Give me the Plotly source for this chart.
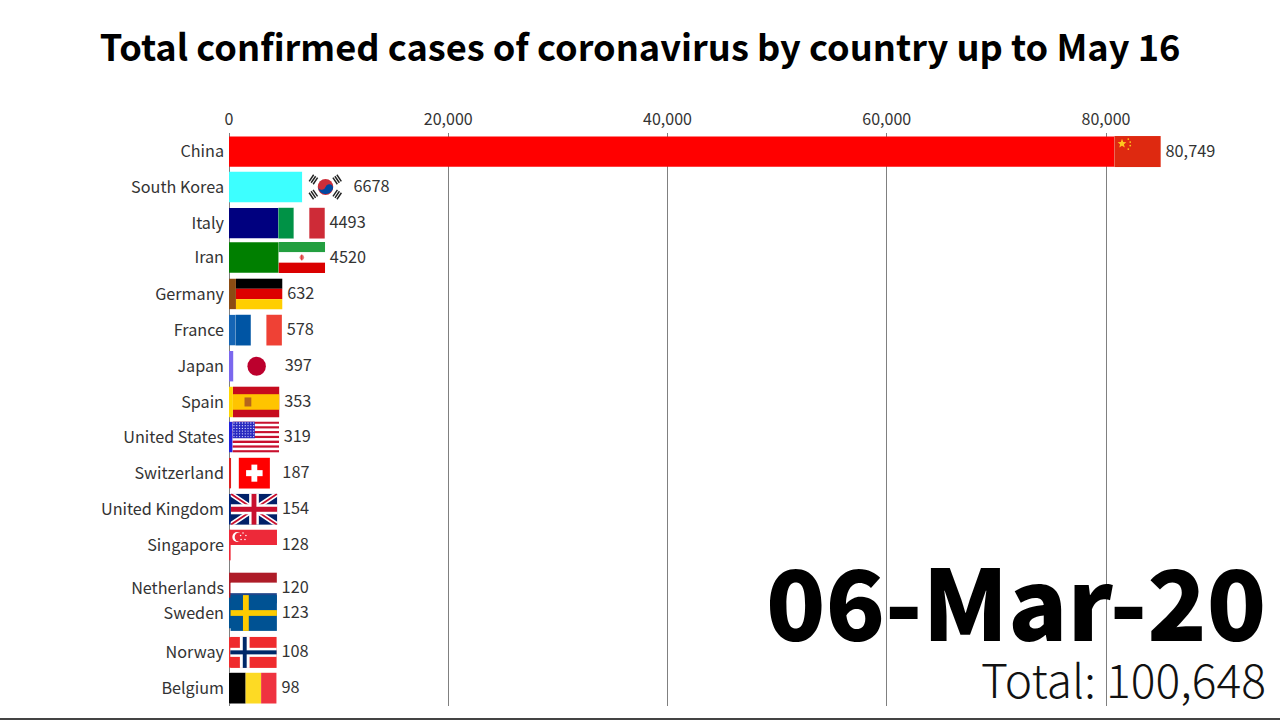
import base64
import plotly.graph_objects as go

FONT = "Noto Sans CJK SC"

countries = ["China", "South Korea", "Italy", "Iran", "Germany", "France", "Japan", "Spain",
             "United States", "Switzerland", "United Kingdom", "Singapore", "Netherlands",
             "Sweden", "Norway", "Belgium"]
cases = [80749, 6678, 4493, 4520, 632, 578, 397, 353, 319, 187, 154, 128, 120, 123, 108, 98]
# this is one frame of a race chart, so two rows are still moving between ranks
ranks = [1, 1.99, 3, 3.96, 4.98, 5.99, 7, 8, 8.98, 9.99, 11, 12, 13.2, 13.9, 15, 16]
case_labels = ["80,749", "6678", "4493", "4520", "632", "578", "397", "353", "319", "187",
               "154", "128", "120", "123", "108", "98"]
bar_colors = ["#ff0000", "#3dffff", "#00007f", "#007f00", "#8b4c13", "#1565b5", "#7b68ee", "#ffd700",
              "#2222dd", "#dd2222", "#00247d", "#ee2939", "#ae1c28", "#005293", "#ef2b2d", "#000000"]
x_ticks = [0, 20000, 40000, 60000, 80000]
title_text = "Total confirmed cases of coronavirus by country up to May 16"
date_text = "06-Mar-20"
total_text = "Total: 100,648"

FLAG_W = 4250  # in axis units, flags sit right after the end of each bar
FLAG_H = 0.87
LABEL_DX = 430
LABEL_DY = 0.03
XMAX = 95870


def rect(x, y, w, h, c):
    return f'<rect x="{x}" y="{y}" width="{w}" height="{h}" fill="{c}"/>'


def circle(x, y, r, c):
    return f'<circle cx="{x}" cy="{y}" r="{r}" fill="{c}"/>'


def vstripes(*cols):
    w = 48 / len(cols)
    return "".join(rect(i * w, 0, w, 31, c) for i, c in enumerate(cols))


def hstripes(*cols):
    h = 31 / len(cols)
    return "".join(rect(0, i * h, 48, h, c) for i, c in enumerate(cols))


def korea():
    s = circle(24, 15.5, 8, "#cd2e3a")
    s += '<path d="M16.2 14 A8 8 0 0 0 31.8 17 A4 4 0 0 0 24 15.5 A4 4 0 0 1 16.2 14Z" fill="#0047a0"/>'
    for cx, cy, a in [(11.5, 8, -55), (36, 8, 55), (11.5, 23, 55), (36, 23, -55)]:
        s += f'<g transform="rotate({a} {cx} {cy})">'
        s += rect(cx - 4, cy - 3.2, 8, 1.5, "#222") + rect(cx - 4, cy - 0.7, 8, 1.5, "#222")
        s += rect(cx - 4, cy + 1.8, 8, 1.5, "#222") + "</g>"
    return s


def usa():
    s = "".join(rect(0, i * 31 / 13, 48, 31 / 13, "#c8102e" if i % 2 == 0 else "#ffffff") for i in range(13))
    s += rect(0, 0, 23, 16.7, "#2a2ac0")
    for r in range(6):
        for c in range(8):
            s += circle(1.5 + c * 2.9, 1.5 + r * 2.7, 0.65, "#dfe2ff")
    return s


def uk():
    s = rect(0, 0, 48, 31, "#012169")
    s += '<path d="M0 0L48 31M48 0L0 31" stroke="#ffffff" stroke-width="5"/>'
    s += '<path d="M0 0L48 31M48 0L0 31" stroke="#c8102e" stroke-width="1.8"/>'
    s += rect(19, 0, 10, 31, "#ffffff") + rect(0, 10.5, 48, 10, "#ffffff")
    s += rect(21.5, 0, 5, 31, "#c8102e") + rect(0, 13, 48, 5, "#c8102e")
    return s


def singapore():
    s = hstripes("#ed2939", "#ffffff")
    s += circle(7, 7.5, 5, "#ffffff") + circle(9, 7.5, 4.6, "#ed2939")
    for x, y in [(13, 3.5), (16, 6), (15, 10), (11, 10), (10.5, 6)]:
        s += circle(x, y, 0.8, "#ffffff")
    return s


def china():
    s = rect(0, 0, 48, 31, "#de2910")
    s += '<polygon points="8,2.8 9.3,6 12.5,6.2 10,8.3 10.9,11.4 8,9.7 5.2,11.4 6,8.3 3.5,6.2 6.8,6" fill="#ffc61e"/>'
    for x, y in [(14.5, 3), (16.5, 6), (16.5, 9.5), (14.5, 13)]:
        s += circle(x, y, 0.9, "#ffc61e")
    return s


flags = {
    "China": china(),
    "South Korea": rect(0, 0, 48, 31, "#ffffff") + korea(),
    "Italy": vstripes("#009246", "#ffffff", "#ce2b37"),
    "Iran": hstripes("#239f40", "#ffffff", "#da0000") + circle(24, 15.5, 2.4, "#e88080") + rect(23.6, 12.5, 0.8, 6, "#da0000"),
    "Germany": hstripes("#000000", "#dd0000", "#ffce00"),
    "France": vstripes("#0055a4", "#ffffff", "#ef4135"),
    "Japan": rect(0, 0, 48, 31, "#ffffff") + circle(24, 15.5, 9.5, "#bc002d"),
    "Spain": rect(0, 0, 48, 31, "#c60b1e") + rect(0, 7.75, 48, 15.5, "#ffc400") + rect(12, 11, 7, 9, "#b5651d"),
    "United States": usa(),
    "Switzerland": rect(8, 0, 32, 31, "#ff0000") + rect(21, 7, 6, 17, "#ffffff") + rect(15.5, 12.5, 17, 6, "#ffffff"),
    "United Kingdom": uk(),
    "Singapore": singapore(),
    "Netherlands": hstripes("#ae1c28", "#ffffff", "#21468b"),
    "Sweden": rect(0, 0, 48, 31, "#005293") + rect(13, 0, 6, 31, "#fecb00") + rect(0, 13, 48, 5, "#fecb00"),
    "Norway": rect(0, 0, 48, 31, "#ef2b2d") + rect(10, 0, 10, 31, "#ffffff") + rect(0, 11, 48, 9, "#ffffff")
    + rect(13, 0, 4, 31, "#002868") + rect(0, 13.5, 48, 4, "#002868"),
    "Belgium": vstripes("#000000", "#fdda24", "#ef3340"),
}


def flag_uri(body):
    svg = f'<svg xmlns="http://www.w3.org/2000/svg" viewBox="0 0 48 31" preserveAspectRatio="none">{body}</svg>'
    return "data:image/svg+xml;base64," + base64.b64encode(svg.encode()).decode()


images = []
for name, val, rank in zip(countries, cases, ranks):
    images.append(dict(
        source=flag_uri(flags[name]), xref="x", yref="y", x=val, y=rank,
        sizex=FLAG_W, sizey=1.0 if name == "Sweden" else FLAG_H,
        sizing="stretch", xanchor="left", yanchor="middle", layer="above",
    ))

fig = go.Figure()
fig.add_trace(go.Bar(x=cases, y=ranks, orientation="h", width=0.85,
                     marker=dict(color=bar_colors, line=dict(width=0)), hoverinfo="skip"))
fig.add_trace(go.Scatter(x=[v + FLAG_W + LABEL_DX for v in cases], y=[r + LABEL_DY for r in ranks],
                         mode="text", text=case_labels,
                         textposition="middle right", cliponaxis=False, hoverinfo="skip",
                         textfont=dict(family=FONT, size=16.3, color="#333333")))

fig.update_layout(
    width=1280, height=720, showlegend=False,
    margin=dict(l=229, r=0, t=133, b=14),
    paper_bgcolor="white", plot_bgcolor="white",
    images=images,
    title=dict(text=title_text, x=0.5, xanchor="center", xref="container", y=0.933, yanchor="middle",
               font=dict(family=FONT, size=36.2, color="#000000", weight=700)),
    xaxis=dict(side="top", range=[0, XMAX], tickvals=x_ticks, tickformat=",d", ticks="", showline=False,
               showgrid=True, gridcolor="#808080", gridwidth=1, zeroline=True, zerolinecolor="#808080",
               zerolinewidth=1, ticklabelstandoff=4, tickfont=dict(family=FONT, size=16, color="#333333")),
    yaxis=dict(range=[16.50, 0.48], tickvals=ranks, ticktext=countries, ticks="", showgrid=False,
               zeroline=False, showline=False, ticklabelstandoff=4,
               tickfont=dict(family=FONT, size=16.2, color="#333333")),
    annotations=[
        dict(text=date_text, xref="paper", yref="paper", x=0.9885, y=0.188, xanchor="right", yanchor="middle",
             showarrow=False, font=dict(family=FONT, size=97.8, color="#000000", weight=900)),
        dict(text=total_text, xref="paper", yref="paper", x=0.9885, y=0.049, xanchor="right", yanchor="middle",
             showarrow=False, font=dict(family=FONT, size=46.2, color="#111111", weight=300)),
    ],
    shapes=[dict(type="line", xref="paper", yref="paper", x0=-0.218, x1=1, y0=-0.0227, y1=-0.0227,
                 line=dict(color="#444444", width=2))],
)

fig.write_html("out.html", config=dict(displayModeBar=False),
               post_script="document.body.style.margin='0';document.body.style.overflow='hidden';")
